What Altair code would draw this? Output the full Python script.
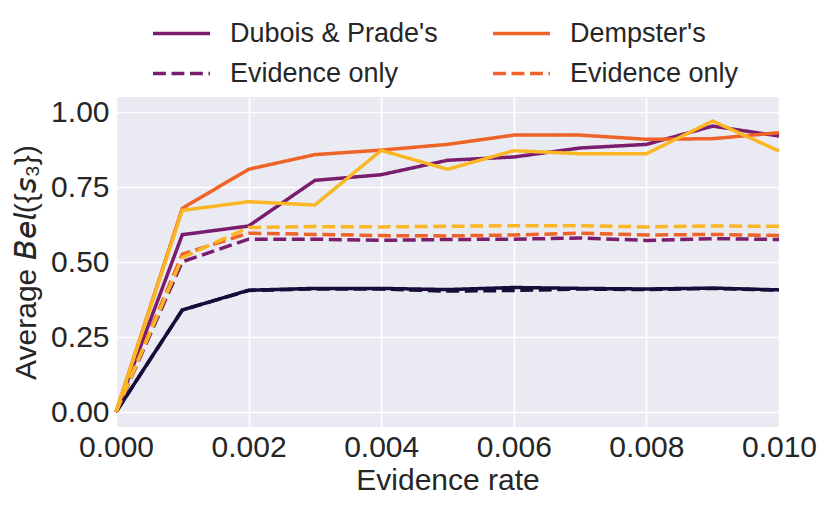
import altair as alt
import pandas as pd

x_vals = [0.000, 0.001, 0.002, 0.003, 0.004, 0.005, 0.006, 0.007, 0.008, 0.009, 0.010]

black_solid = [0.0, 0.340, 0.406, 0.412, 0.412, 0.408, 0.415, 0.412, 0.410, 0.413, 0.407]
black_dashed = [0.0, 0.340, 0.405, 0.410, 0.410, 0.403, 0.405, 0.410, 0.408, 0.412, 0.406]
dp_solid = [0.0, 0.591, 0.620, 0.772, 0.791, 0.839, 0.850, 0.880, 0.892, 0.953, 0.920]
dp_dashed = [0.0, 0.501, 0.576, 0.576, 0.572, 0.575, 0.576, 0.580, 0.572, 0.578, 0.575]
dem_solid = [0.0, 0.679, 0.809, 0.858, 0.873, 0.892, 0.923, 0.923, 0.909, 0.911, 0.931]
dem_dashed = [0.0, 0.526, 0.596, 0.592, 0.588, 0.587, 0.590, 0.596, 0.590, 0.592, 0.588]
yellow_solid = [0.0, 0.672, 0.701, 0.690, 0.872, 0.809, 0.871, 0.861, 0.861, 0.970, 0.870]
yellow_dashed = [0.0, 0.515, 0.615, 0.618, 0.617, 0.619, 0.621, 0.621, 0.617, 0.620, 0.619]

# legend fills column by column: col 1 = DP solid, DP evidence; col 2 = Dempster solid, Dempster evidence
legend_keys = ["dp", "dp_ev", "dem", "dem_ev"]

series = {
    "black": black_solid,
    "black_ev": black_dashed,
    "dp": dp_solid,
    "dp_ev": dp_dashed,
    "dem": dem_solid,
    "dem_ev": dem_dashed,
    "yellow": yellow_solid,
    "yellow_ev": yellow_dashed,
}
rows = []
for k, vals in series.items():
    for xv, yv in zip(x_vals, vals):
        rows.append({"x": xv, "y": yv, "series": k})
df = pd.DataFrame(rows)

BLACK = "#170c3a"
PURPLE = "#7a1d6e"
ORANGE = "#ee6327"
YELLOW = "#fbb723"
SW = 3.5
DASH = [12.9, 5.6]
FONT = "Liberation Sans"

xenc = alt.X("x:Q", title="Evidence rate",
             scale=alt.Scale(domain=[0, 0.01], nice=False, zero=False),
             axis=alt.Axis(values=[0, 0.002, 0.004, 0.006, 0.008, 0.010], format=".3f",
                           labelFlush=False, labelOverlap=False, labelPadding=5,
                           titlePadding=3))
yenc = alt.Y("y:Q", title="Average 𝘉𝘦𝘭({𝘴₃})",
             scale=alt.Scale(domain=[-0.05, 1.05], nice=False, zero=False),
             axis=alt.Axis(values=[0, 0.25, 0.5, 0.75, 1.0], format=".2f",
                           labelPadding=7, titlePadding=9))

base = alt.Chart(df)

def single(key, color, dash):
    return base.transform_filter(alt.datum.series == key).mark_line(strokeWidth=SW).encode(
        x=xenc, y=yenc,
        color=alt.value(color),
        strokeDash=alt.value(dash),
    )

label_expr = ("datum.value == 'dp' ? \"Dubois & Prade's\" : datum.value == 'dem' ? "
              "\"Dempster's\" : 'Evidence only'")

def make_legend():
    return alt.Legend(title=None, orient="none", legendX=35, legendY=-77,
                      columns=2, columnPadding=53, rowPadding=12, clipHeight=27,
                      symbolType="stroke", symbolSize=3249,
                      symbolStrokeWidth=SW, labelOffset=18, labelLimit=400,
                      labelFontSize=27, labelFont=FONT, labelColor="#262626",
                      labelExpr=label_expr, padding=0)

legend_layer = base.transform_filter(
    alt.FieldOneOfPredicate(field="series", oneOf=legend_keys)
).mark_line(strokeWidth=SW).encode(
    x=xenc, y=yenc,
    color=alt.Color("series:N",
                    scale=alt.Scale(domain=legend_keys, range=[PURPLE, PURPLE, ORANGE, ORANGE]),
                    legend=make_legend()),
    strokeDash=alt.StrokeDash("series:N",
                              scale=alt.Scale(domain=legend_keys,
                                              range=[[1, 0], DASH, [1, 0], DASH]),
                              legend=make_legend()),
)

chart = alt.layer(
    single("black", BLACK, [1, 0]),
    single("black_ev", BLACK, DASH),
    legend_layer,
    single("yellow", YELLOW, [1, 0]),
    single("yellow_ev", YELLOW, DASH),
).properties(
    width=663, height=330,
    autosize=alt.AutoSizeParams(type="none"),
    padding={"left": 108, "top": 89, "right": 44, "bottom": 75},
).configure_view(
    fill="#EAEAF2", strokeWidth=0
).configure_axis(
    grid=True, gridColor="white", gridWidth=1.6, domain=False, ticks=False,
    labelFont=FONT, titleFont=FONT, labelFontSize=30, titleFontSize=30,
    labelColor="#262626", titleColor="#262626", titleFontWeight="normal",
)

chart.save("out.html", embed_options={"renderer": "svg", "actions": False})
